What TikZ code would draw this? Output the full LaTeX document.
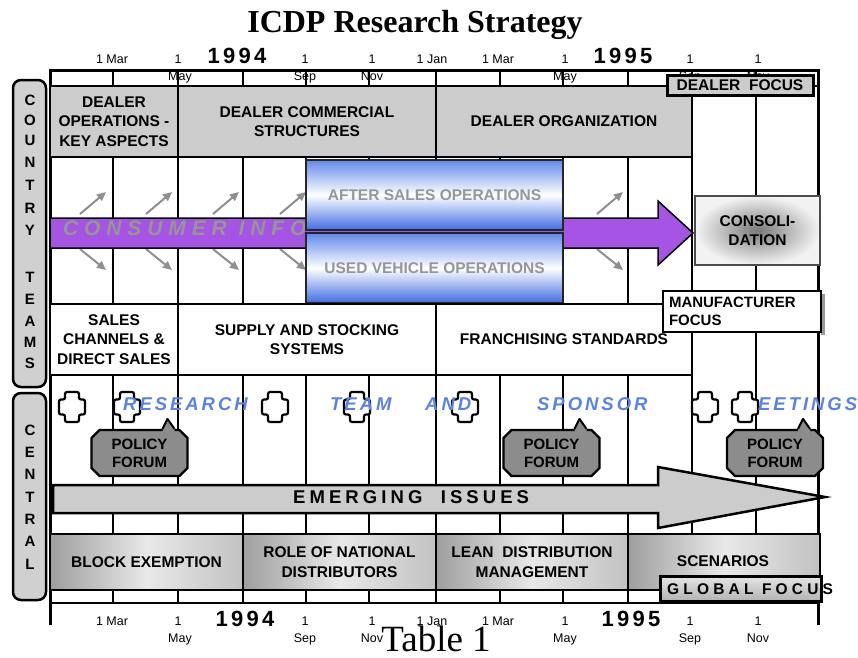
\documentclass[tikz,border=0pt]{standalone}
\usepackage{fontspec}
\setmainfont{Liberation Sans}
\newfontfamily\timesfont{Liberation Serif}
\usetikzlibrary{arrows.meta,shapes.misc}

\definecolor{boxgray}{HTML}{CCCCCC}
\definecolor{infopurple}{HTML}{A654E3}
\definecolor{infotext}{HTML}{969696}
\definecolor{arrowgray}{HTML}{8F8F8F}
\definecolor{meetblue}{HTML}{5A82E6}
\definecolor{bluetop}{HTML}{6189EA}
\definecolor{bluebot}{HTML}{3E6CE2}
\definecolor{forumgray}{HTML}{8C8C8C}
\definecolor{sidegray}{HTML}{D0D0D0}

\newcommand{\boxfont}{\fontsize{15.5}{19.5}\selectfont\bfseries}
\newcommand{\monthfont}{\fontsize{12.5}{14}\selectfont}

\tikzset{
  gridline/.style={line width=2.6pt},
  rowbox/.style={draw=black, line width=2pt, align=center, font=\boxfont, inner sep=2pt},
  bluebox/.style={rowbox, draw=black!85, top color=bluetop, bottom color=bluebot, middle color=white, text=infotext},
  metalbox/.style={rowbox, left color=black!38, right color=black!24, middle color=black!9},
  focusbox/.style={draw=black, line width=3pt, fill=boxgray, inner sep=0pt},
  monthlabel/.style={font=\monthfont, anchor=base, inner sep=0pt},
  yearlabel/.style={font=\fontsize{22}{24}\selectfont\bfseries\addfontfeature{LetterSpace=15}, anchor=base, inner sep=0pt},
  sidebox/.style={draw=black, line width=2.5pt, fill=sidegray, rounded corners=8pt},
  sideletter/.style={font=\fontsize{15}{15}\selectfont\bfseries, inner sep=0pt},
  infoarrow/.style={draw=arrowgray, line width=2pt, -{Triangle[length=9pt,width=8pt]}},
  crossmark/.style={fill=white, draw=black, line width=2.2pt, rounded corners=2pt},
  meettext/.style={font=\fontsize{18.5}{20}\selectfont\bfseries\itshape\addfontfeature{LetterSpace=16}, text=meetblue, anchor=base west, inner sep=0pt},
  forum/.style={chamfered rectangle, chamfered rectangle xsep=4pt, chamfered rectangle ysep=4pt, draw=black, line width=2.2pt, fill=forumgray, align=center, font=\fontsize{15}{18}\selectfont\bfseries, minimum width=96, minimum height=46, inner sep=1pt}
}

\begin{document}
\begin{tikzpicture}[x=1pt, y=-1pt]
\useasboundingbox (0,0) rectangle (858,657);

% Title
\node[font=\timesfont\bfseries\fontsize{32}{36}\selectfont, anchor=base] (title) at (415,32) {ICDP Research Strategy};

% Month labels above and below the grid
\foreach \x/\t in {112/1 Mar, 178/1, 305/1, 372/1, 432/1 Jan, 498/1 Mar, 565/1, 690/1, 758/1} {
    \node[monthlabel] (mt\x) at (\x,63) {\t};
    \node[monthlabel] (mb\x) at (\x,625) {\t};
}
\foreach \x/\t in {180/May, 305/Sep, 372/Nov, 565/May, 690/Sep, 758/Nov} {
    \node[monthlabel] (nt\x) at (\x,80) {\t};
    \node[monthlabel] (nb\x) at (\x,642) {\t};
}
\node[yearlabel] (ytop94) at (237,63) {1994};
\node[yearlabel] (ytop95) at (623,63) {1995};
\node[yearlabel] (ybot94) at (245,626) {1994};
\node[yearlabel] (ybot95) at (631,626) {1995};

% Time grid
\foreach \x in {113,178,243,306,369,436,500,563,628,692,756} {
    \draw[gridline] (\x,70) -- (\x,603);
}
\draw[line width=3pt] (50,625) -- (50,70) -- (818,70) -- (818,625);
\draw[gridline] (50,86) -- (818,86);
\draw[line width=2pt] (50,603) -- (818,603);

% Dealer row
\node[rowbox, fill=boxgray, minimum width=128, minimum height=71] (dops) at (114,121.5) {DEALER\\OPERATIONS -\\KEY ASPECTS};
\node[rowbox, fill=boxgray, minimum width=258, minimum height=71] (dcom) at (307,121.5) {DEALER COMMERCIAL\\STRUCTURES};
\node[rowbox, fill=boxgray, minimum width=256, minimum height=71] (dorg) at (564,121.5) {DEALER ORGANIZATION};

% Consumer information flow
\foreach \x in {80,146,213,280,597} {
    \draw[infoarrow] (\x,214) -- ++(26,-22);
    \draw[infoarrow] (\x,249) -- ++(26,21);
}
\filldraw[fill=infopurple, draw=black, line width=1.5pt, line join=miter] (50,218) -- (658,218) -- (658,201) -- (693,233) -- (658,265) -- (658,248) -- (50,248) -- cycle;
\node[font=\fontsize{21}{21}\selectfont\bfseries\itshape\addfontfeature{LetterSpace=28}, text=infotext, anchor=base west, inner sep=0pt] (cinfo) at (63,235) {CONSUMER INFO};

\node[bluebox, minimum width=257, minimum height=70] (after) at (434.5,195) {AFTER SALES OPERATIONS};
\node[bluebox, minimum width=257, minimum height=70] (used) at (434.5,268) {USED VEHICLE OPERATIONS};
\node[rowbox, draw=black!70, inner color=black!52, outer color=black!5, minimum width=125, minimum height=69] (consol) at (757.5,230.5) {CONSOLI-\\DATION};

% Sales and supply row
\node[rowbox, fill=white, minimum width=128, minimum height=71] (sales) at (114,339.5) {SALES\\CHANNELS \&\\DIRECT SALES};
\node[rowbox, fill=white, minimum width=258, minimum height=71] (supply) at (307,339.5) {SUPPLY AND STOCKING\\SYSTEMS};
\node[rowbox, fill=white, minimum width=256, minimum height=71] (franch) at (564,339.5) {FRANCHISING STANDARDS};

\fill[black!40] (821,294) rectangle (825,335);
\node[rowbox, fill=white, align=left, font=\fontsize{15}{18}\selectfont\bfseries, text width=146, inner xsep=6pt, minimum height=41] (manu) at (742,311.5) {MANUFACTURER\\FOCUS};
\node[focusbox, minimum width=146, minimum height=20, font=\fontsize{15.5}{16}\selectfont\bfseries] (dfocus) at (740,85) {DEALER\ \ FOCUS};

% Research team and sponsor meetings
\foreach \x in {72,127,275,357,465,705,745} {
    \begin{scope}[shift={(\x,407)}]
    \filldraw[crossmark] (-7,-15) -- (7,-15) -- (7,-7.5) -- (13,-7.5) -- (13,7.5) -- (7,7.5) -- (7,15) -- (-7,15) -- (-7,7.5) -- (-13,7.5) -- (-13,-7.5) -- (-7,-7.5) -- cycle;
    \end{scope}
}
\node[meettext] (mres) at (123,410) {RESEARCH};
\node[meettext] (mteam) at (330,410) {TEAM};
\node[meettext] (mand) at (425,410) {AND};
\node[meettext] (mspon) at (537,410) {SPONSOR};
\node[meettext] (mmeet) at (758,410) {EETINGS};

% Policy forums
\foreach \n/\x in {pf1/139.5, pf2/551.5, pf3/775} {
    \node[forum] (\n) at (\x,453) {POLICY\\FORUM};
    \fill[forumgray] ([xshift=23pt,yshift=-3pt]\n.north) -- ([xshift=23pt]\n.north) -- ([xshift=28pt,yshift=10pt]\n.north) -- ([xshift=35pt]\n.north) -- ([xshift=35pt,yshift=-3pt]\n.north) -- cycle;
    \draw[line width=2pt, line join=round] ([xshift=23pt]\n.north) -- ([xshift=28pt,yshift=10pt]\n.north) -- ([xshift=35pt]\n.north);
}

% Emerging issues
\filldraw[fill=boxgray, draw=black, line width=2.5pt] (53,485) -- (658,485) -- (658,467) -- (825,497) -- (658,528) -- (658,513) -- (53,513) -- cycle;
\node[font=\fontsize{18.5}{20}\selectfont\bfseries\addfontfeature{LetterSpace=22}, anchor=base west, inner sep=0pt] (emerg) at (293,503) {EMERGING\ \ ISSUES};

% Central studies row
\node[metalbox, minimum width=193, minimum height=56] (block) at (146.5,562) {BLOCK EXEMPTION};
\node[metalbox, minimum width=193, minimum height=56] (nat) at (339.5,562) {ROLE OF NATIONAL\\DISTRIBUTORS};
\node[metalbox, minimum width=192, minimum height=56] (lean) at (532,562) {LEAN\ \ DISTRIBUTION\\MANAGEMENT};
\node[metalbox, minimum width=192, minimum height=56] (scen) at (724,562) {};
\node[font=\boxfont, anchor=base] (scentext) at (723,566) {SCENARIOS};
\node[focusbox, top color=black!10, bottom color=black!30, minimum width=161, minimum height=25] (gbox) at (740.5,588.5) {};
\node[font=\fontsize{15.5}{16}\selectfont\bfseries\addfontfeature{LetterSpace=27}, anchor=base west, inner sep=0pt] (gfocus) at (667,594) {GLOBAL FOCUS};

% Side labels
\draw[sidebox] (13,80) rectangle (46,387);
\draw[sidebox] (13,393) rectangle (46,600);
\foreach \l/\y in {C/100,O/120,U/140,N/162,T/185,R/208,Y/230,T/277,E/299,A/321,M/342,S/363} {
    \node[sideletter] (ct\y) at (30,\y) {\l};
}
\foreach \l/\y in {C/430,E/452,N/474,T/497,R/519,A/541,L/564} {
    \node[sideletter] (ce\y) at (30,\y) {\l};
}

% Caption
\node[font=\timesfont\fontsize{37}{40}\selectfont, anchor=base, inner sep=0pt] (table) at (436,651) {Table 1};

\end{tikzpicture}
\end{document}
